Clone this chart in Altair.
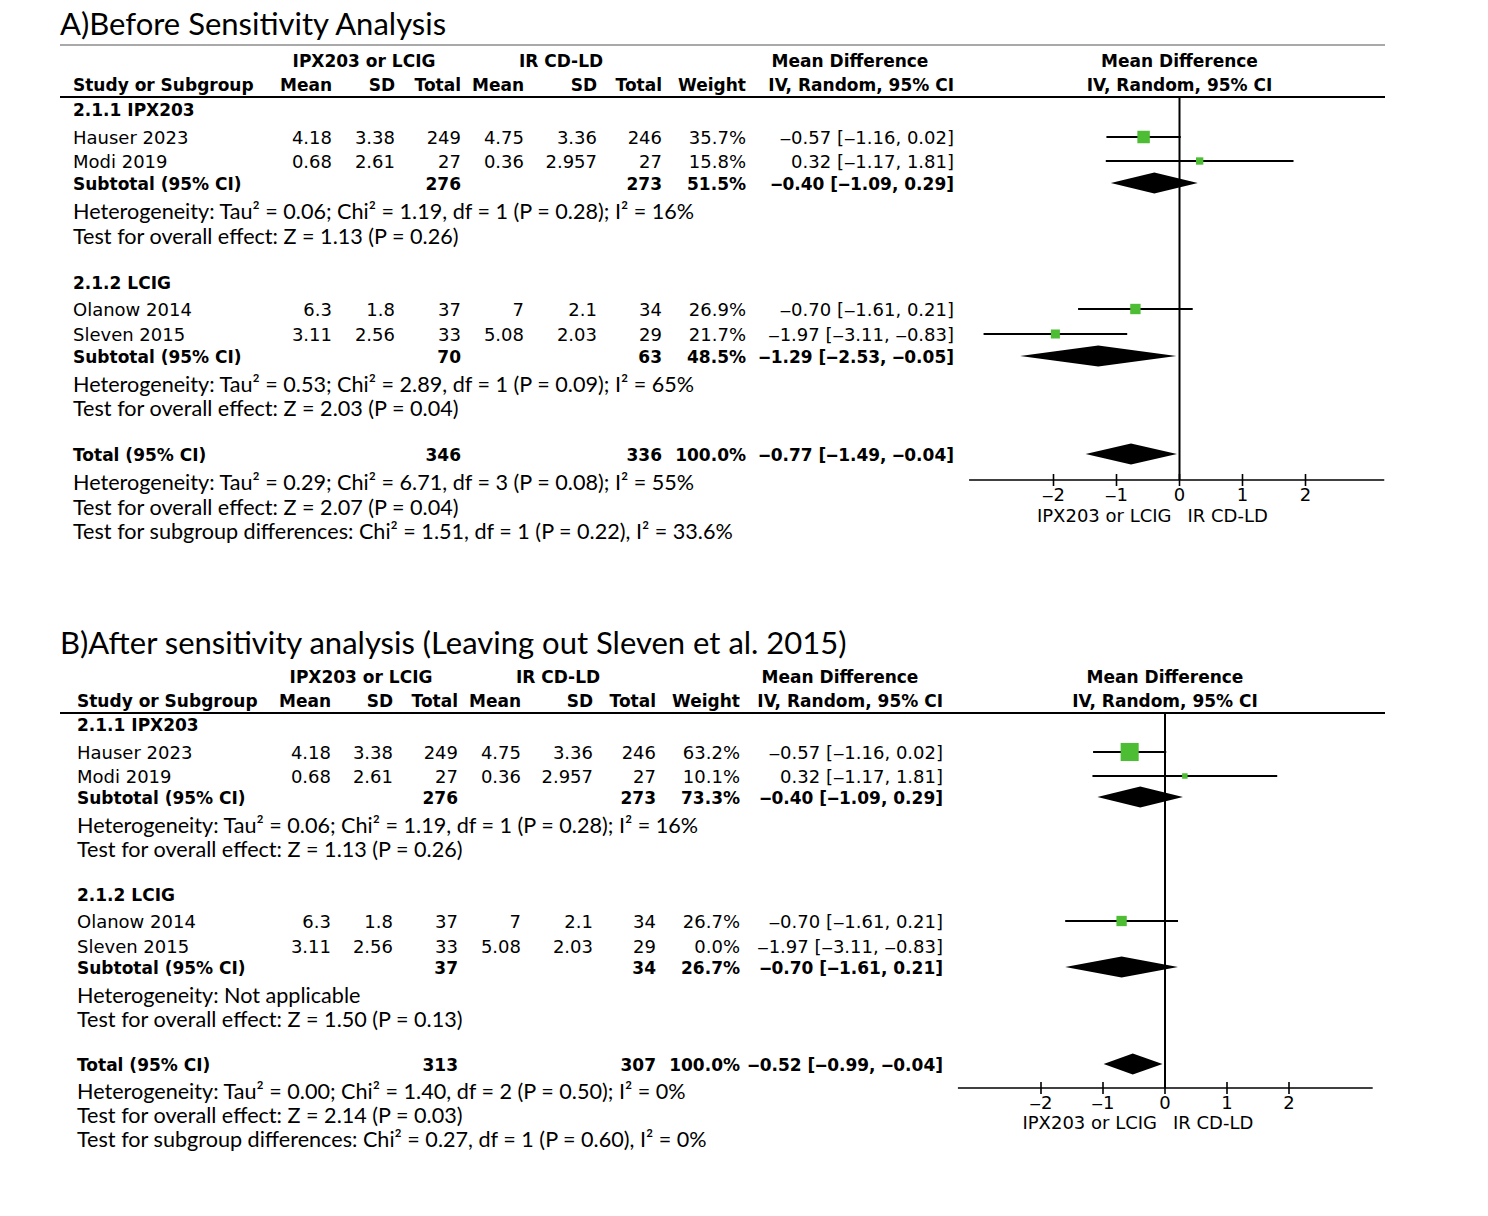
import altair as alt
import pandas as pd

# ---------------- data ----------------
studies = ["Hauser 2023", "Modi 2019", "Olanow 2014", "Sleven 2015"]
group_labels = ["2.1.1 IPX203", "2.1.2 LCIG"]
exp_mean = [4.18, 0.68, 6.3, 3.11]
exp_sd = [3.38, 2.61, 1.8, 2.56]
exp_total = [249, 27, 37, 33]
ctl_mean = [4.75, 0.36, 7, 5.08]
ctl_sd = [3.36, 2.957, 2.1, 2.03]
ctl_total = [246, 27, 34, 29]
md = [-0.57, 0.32, -0.70, -1.97]
md_lo = [-1.16, -1.17, -1.61, -3.11]
md_hi = [0.02, 1.81, 0.21, -0.83]
weight_a = [35.7, 15.8, 26.9, 21.7]
weight_b = [63.2, 10.1, 26.7, 0.0]

pooled_labels = ["Subtotal (95% CI)", "Subtotal (95% CI)", "Total (95% CI)"]
pooled_exp_a = [276, 70, 346]
pooled_ctl_a = [273, 63, 336]
pooled_w_a = [51.5, 48.5, 100.0]
pooled_md_a = [-0.40, -1.29, -0.77]
pooled_lo_a = [-1.09, -2.53, -1.49]
pooled_hi_a = [0.29, -0.05, -0.04]

pooled_exp_b = [276, 37, 313]
pooled_ctl_b = [273, 34, 307]
pooled_w_b = [73.3, 26.7, 100.0]
pooled_md_b = [-0.40, -0.70, -0.52]
pooled_lo_b = [-1.09, -1.61, -0.99]
pooled_hi_b = [0.29, 0.21, -0.04]

notes_a = [
    ["Heterogeneity: Tau² = 0.06; Chi² = 1.19, df = 1 (P = 0.28); I² = 16%",
     "Test for overall effect: Z = 1.13 (P = 0.26)"],
    ["Heterogeneity: Tau² = 0.53; Chi² = 2.89, df = 1 (P = 0.09); I² = 65%",
     "Test for overall effect: Z = 2.03 (P = 0.04)"],
    ["Heterogeneity: Tau² = 0.29; Chi² = 6.71, df = 3 (P = 0.08); I² = 55%",
     "Test for overall effect: Z = 2.07 (P = 0.04)",
     "Test for subgroup differences: Chi² = 1.51, df = 1 (P = 0.22), I² = 33.6%"],
]
notes_b = [
    ["Heterogeneity: Tau² = 0.06; Chi² = 1.19, df = 1 (P = 0.28); I² = 16%",
     "Test for overall effect: Z = 1.13 (P = 0.26)"],
    ["Heterogeneity: Not applicable",
     "Test for overall effect: Z = 1.50 (P = 0.13)"],
    ["Heterogeneity: Tau² = 0.00; Chi² = 1.40, df = 2 (P = 0.50); I² = 0%",
     "Test for overall effect: Z = 2.14 (P = 0.03)",
     "Test for subgroup differences: Chi² = 0.27, df = 1 (P = 0.60), I² = 0%"],
]
title_a = "A)Before Sensitivity Analysis"
title_b = "B)After sensitivity analysis (Leaving out Sleven et al. 2015)"
exp_label = "IPX203 or LCIG"
ctl_label = "IR CD-LD"
tick_values = [-2, -1, 0, 1, 2]

# ---------------- layout / style ----------------
OFF = 8
W, H = 1472, 1200
GREEN = "#4dbd33"
TFONT = "DejaVu Sans"
NFONT = "Lato"
TSIZE = 18
BSIZE = 17
NSIZE = 21.6
TITLE_SIZE = 31
MINUS = "\u2012"
DY = 2

LAYOUT_A = dict(title=35, grey=45, h1=60, h2=84, rule=97, g=[109, 282],
                s=[137, 161, 309, 334], sub=[183, 356, 454],
                notes=[[211, 236], [384, 408], [482, 507, 531]],
                axis=480, ticklab=496, dirlab=517, zero=1179.5, unit=63.0,
                ext=[-3.34, 3.25],
                cols=dict(name=73, mean=332, sd=395, total=461, cmean=524, csd=597,
                          ctotal=662, weight=746, ci=954, hexp=364, hctl=561, hmd=850))
LAYOUT_B = dict(title=654, grey=None, h1=676, h2=700, rule=713, g=[724, 894],
                s=[752, 776, 921, 946], sub=[797, 967, 1064],
                notes=[[825, 849], [995, 1019], [1091, 1115, 1139]],
                axis=1088, ticklab=1104, dirlab=1124, zero=1165.0, unit=62.0,
                ext=[-3.34, 3.35],
                cols=dict(name=77, mean=331, sd=393, total=458, cmean=521, csd=593,
                          ctotal=656, weight=740, ci=943, hexp=361, hctl=558, hmd=840))


def num(v):
    return f"{v:g}".replace("-", MINUS)


def ci_text(m, lo, hi):
    return f"{m:.2f} [{lo:.2f}, {hi:.2f}]".replace("-", MINUS)


ys = alt.Scale(domain=[0, H], range=[0, H], zero=False, nice=False)
size_scale = alt.Scale(type="pow", exponent=1.3, domain=[0, 100], range=[0, 593])


def Yf(f="y"):
    return alt.Y(f"{f}:Q", scale=ys, axis=None)


def texts(rows, x, align="left", size=TSIZE, bold=False, font=TFONT):
    df = pd.DataFrame({"y": [r[0] - OFF for r in rows], "t": [r[1] for r in rows]})
    return alt.Chart(df).mark_text(
        align=align, baseline="middle", font=font, fontSize=size, dy=DY,
        fontWeight="bold" if bold else "normal", color="black",
    ).encode(x=alt.value(x - OFF), y=Yf(), text="t:N")


def hline(y, x0=60, x1=1385, color="black", width=2.0):
    return alt.Chart(pd.DataFrame({"y": [y - OFF]})).mark_rule(
        color=color, strokeWidth=width
    ).encode(x=alt.value(x0 - OFF), x2=alt.value(x1 - OFF), y=Yf())


def panel(L, weights, p_exp, p_ctl, p_w, p_md, p_lo, p_hi, notes, title):
    c = L["cols"]
    layers = []
    # title & rules
    layers.append(alt.Chart(pd.DataFrame({"y": [L["title"] - OFF], "t": [title]})).mark_text(
        align="left", baseline="alphabetic", font=NFONT, fontSize=TITLE_SIZE, color="black"
    ).encode(x=alt.value(60 - OFF), y=Yf(), text="t:N"))
    if L["grey"] is not None:
        layers.append(hline(L["grey"], color="#8c8c8c", width=1.5))
    layers.append(hline(L["rule"], width=2.0))

    # headers
    layers.append(texts([(L["h1"], exp_label)], c["hexp"], "center", BSIZE, True))
    layers.append(texts([(L["h1"], ctl_label)], c["hctl"], "center", BSIZE, True))
    layers.append(texts([(L["h1"], "Mean Difference")], c["hmd"], "center", BSIZE, True))
    layers.append(texts([(L["h2"], "Study or Subgroup")], c["name"], "left", BSIZE, True))
    for key, lab in [("mean", "Mean"), ("sd", "SD"), ("total", "Total"), ("cmean", "Mean"),
                     ("csd", "SD"), ("ctotal", "Total"), ("weight", "Weight"),
                     ("ci", "IV, Random, 95% CI")]:
        layers.append(texts([(L["h2"], lab)], c[key], "right", BSIZE, True))

    # group labels
    layers.append(texts(list(zip(L["g"], group_labels)), c["name"], "left", BSIZE, True))

    # study rows
    sy = L["s"]
    layers.append(texts(list(zip(sy, studies)), c["name"], "left"))
    layers.append(texts(list(zip(sy, [num(v) for v in exp_mean])), c["mean"], "right"))
    layers.append(texts(list(zip(sy, [num(v) for v in exp_sd])), c["sd"], "right"))
    layers.append(texts(list(zip(sy, [num(v) for v in exp_total])), c["total"], "right"))
    layers.append(texts(list(zip(sy, [num(v) for v in ctl_mean])), c["cmean"], "right"))
    layers.append(texts(list(zip(sy, [num(v) for v in ctl_sd])), c["csd"], "right"))
    layers.append(texts(list(zip(sy, [num(v) for v in ctl_total])), c["ctotal"], "right"))
    layers.append(texts(list(zip(sy, [f"{w:.1f}%" for w in weights])), c["weight"], "right"))
    layers.append(texts(list(zip(sy, [ci_text(m, a, b) for m, a, b in zip(md, md_lo, md_hi)])),
                        c["ci"], "right"))

    # pooled rows
    py_ = L["sub"]
    layers.append(texts(list(zip(py_, pooled_labels)), c["name"], "left", BSIZE, True))
    layers.append(texts(list(zip(py_, [str(v) for v in p_exp])), c["total"], "right", BSIZE, True))
    layers.append(texts(list(zip(py_, [str(v) for v in p_ctl])), c["ctotal"], "right", BSIZE, True))
    layers.append(texts(list(zip(py_, [f"{w:.1f}%" for w in p_w])), c["weight"], "right", BSIZE, True))
    layers.append(texts(list(zip(py_, [ci_text(m, a, b) for m, a, b in zip(p_md, p_lo, p_hi)])),
                        c["ci"], "right", BSIZE, True))

    # notes
    nrows = []
    for ys_, ts_ in zip(L["notes"], notes):
        nrows += list(zip(ys_, ts_))
    layers.append(texts(nrows, c["name"], "left", NSIZE, False, NFONT))

    # ---- forest plot ----
    z, u = L["zero"] - OFF, L["unit"]
    xs = alt.Scale(domain=[-4, 4], range=[z - 4 * u, z + 4 * u], zero=False, nice=False)

    def X(f):
        return alt.X(f"{f}:Q", scale=xs, axis=None)

    sdf = pd.DataFrame({"y": [v - OFF for v in sy], "m": md, "lo": md_lo, "hi": md_hi, "w": weights})
    sdf = sdf[sdf["w"] > 0]
    layers.append(alt.Chart(sdf).mark_rule(color="black", strokeWidth=1.8).encode(
        x=X("lo"), x2=alt.X2("hi:Q"), y=Yf()))
    layers.append(alt.Chart(sdf).mark_square(color=GREEN, opacity=1).encode(
        x=X("m"), y=Yf(), size=alt.Size("w:Q", scale=size_scale, legend=None)))

    half = 10.5
    drows = []
    for i, (yy, m, a, b) in enumerate(zip(py_, p_md, p_lo, p_hi)):
        yc = yy - OFF
        drows += [dict(d=i, x=a, y1=yc, y2=yc), dict(d=i, x=m, y1=yc - half, y2=yc + half),
                  dict(d=i, x=b, y1=yc, y2=yc)]
    layers.append(alt.Chart(pd.DataFrame(drows)).mark_area(color="black", orient="vertical").encode(
        x=X("x"), y=Yf("y1"), y2=alt.Y2("y2:Q"), detail="d:N"))

    ax = L["axis"] - OFF
    # line of no effect
    layers.append(alt.Chart(pd.DataFrame({"t": [0], "y1": [L["rule"] - OFF], "y2": [ax]})).mark_rule(
        color="black", strokeWidth=2).encode(x=X("t"), y=Yf("y1"), y2=alt.Y2("y2:Q")))
    # axis line, ticks, labels
    layers.append(alt.Chart(pd.DataFrame({"a": [L["ext"][0]], "b": [L["ext"][1]], "y": [ax]})).mark_rule(
        color="black", strokeWidth=1.6).encode(x=X("a"), x2=alt.X2("b:Q"), y=Yf()))
    tdf = pd.DataFrame({"t": tick_values, "y1": [ax - 6] * len(tick_values), "y2": [ax + 6] * len(tick_values),
                        "yl": [L["ticklab"] - OFF] * len(tick_values),
                        "lab": [num(v) for v in tick_values]})
    layers.append(alt.Chart(tdf).mark_rule(color="black", strokeWidth=1.6).encode(
        x=X("t"), y=Yf("y1"), y2=alt.Y2("y2:Q")))
    layers.append(alt.Chart(tdf).mark_text(font=TFONT, fontSize=TSIZE, baseline="middle", align="center",
                                           color="black").encode(x=X("t"), y=Yf("yl"), text="lab:N"))
    ddf = pd.DataFrame({"t": [0], "y": [L["dirlab"] - OFF]})
    layers.append(alt.Chart(ddf).mark_text(font=TFONT, fontSize=TSIZE, baseline="middle", align="right",
                                           dx=-8, color="black", text=exp_label).encode(x=X("t"), y=Yf()))
    layers.append(alt.Chart(ddf).mark_text(font=TFONT, fontSize=TSIZE, baseline="middle", align="left",
                                           dx=8, color="black", text=ctl_label).encode(x=X("t"), y=Yf()))
    # right-hand headers centred on the line of no effect
    hdf = pd.DataFrame({"t": [0, 0], "y": [L["h1"] - OFF, L["h2"] - OFF],
                        "lab": ["Mean Difference", "IV, Random, 95% CI"]})
    layers.append(alt.Chart(hdf).mark_text(font=TFONT, fontSize=BSIZE, fontWeight="bold", baseline="middle",
                                           dy=DY, align="center", color="black").encode(
        x=X("t"), y=Yf(), text="lab:N"))
    return layers


layers = (panel(LAYOUT_A, weight_a, pooled_exp_a, pooled_ctl_a, pooled_w_a, pooled_md_a, pooled_lo_a,
                pooled_hi_a, notes_a, title_a)
          + panel(LAYOUT_B, weight_b, pooled_exp_b, pooled_ctl_b, pooled_w_b, pooled_md_b, pooled_lo_b,
                  pooled_hi_b, notes_b, title_b))

chart = alt.layer(*layers).resolve_scale(x="independent").properties(
    width=W, height=H, padding=0, autosize=alt.AutoSizeParams(type="none"), background="white"
).configure_view(stroke=None)

chart.save("out.html", embed_options={"renderer": "svg", "actions": False})
